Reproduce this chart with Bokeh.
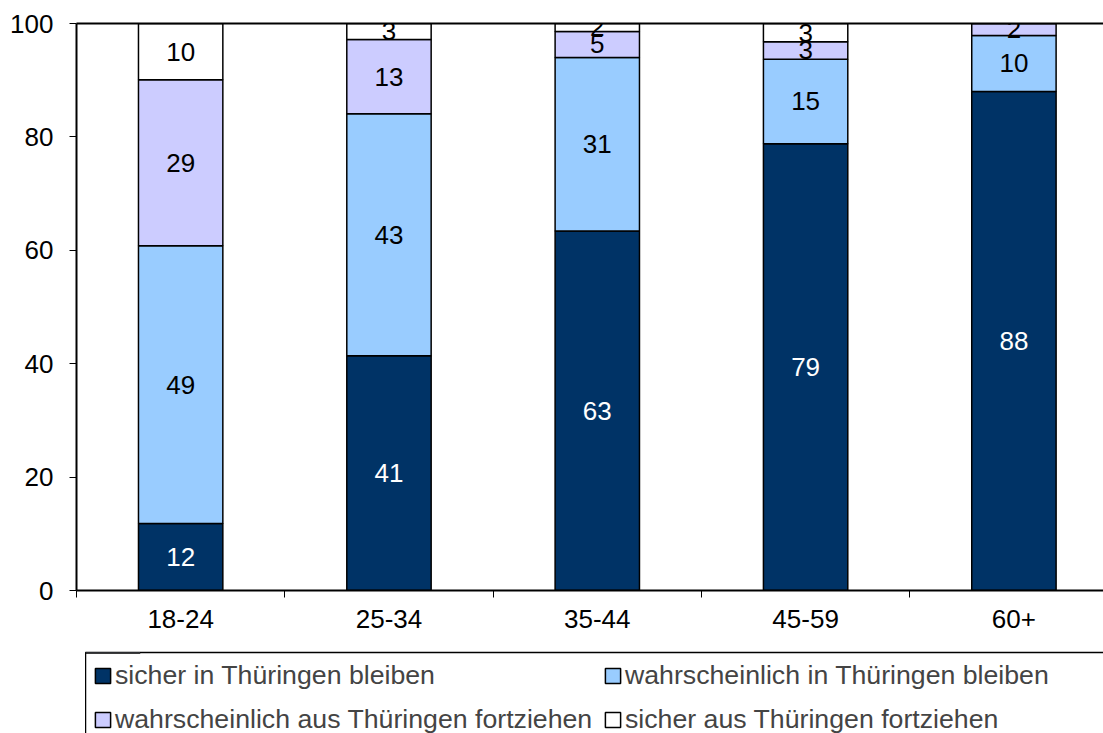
import numpy as np
from bokeh.plotting import figure
from bokeh.layouts import column, row, Spacer
from bokeh.models import (Range1d, FixedTicker, LinearAxis, Legend, LegendItem,
                          ColumnDataSource)
from bokeh.core.properties import value
from bokeh.embed import file_html
from bokeh.resources import INLINE

# ---- data ----
categories = ["18-24", "25-34", "35-44", "45-59", "60+"]
series_names = ["sicher in Thüringen bleiben",
                "wahrscheinlich in Thüringen bleiben",
                "wahrscheinlich aus Thüringen fortziehen",
                "sicher aus Thüringen fortziehen"]
sicher_bleiben = [11.8, 41.4, 63.4, 78.8, 88.0]
wahrsch_bleiben = [49.0, 42.7, 30.6, 14.9, 9.9]
wahrsch_fort = [29.3, 13.1, 4.6, 3.1, 2.1]
sicher_fort = [9.9, 2.8, 1.5, 3.2, 0.0]
colors = ["#003366", "#99CCFF", "#CCCCFF", "#FFFFFF"]
label_colors = ["white", "black", "black", "black"]
y_ticks = [0, 20, 40, 60, 80, 100]

FONT = "Liberation Sans"
FS = "26px"
keys = ["s0", "s1", "s2", "s3"]
series = [sicher_bleiben, wahrsch_bleiben, wahrsch_fort, sicher_fort]
xs = list(range(len(categories)))
src = ColumnDataSource(dict(x=xs, **{k: v for k, v in zip(keys, series)}))

p = figure(frame_width=1027, frame_height=567,
           x_range=Range1d(-0.5, 4.43), y_range=Range1d(0, 100),
           output_backend="svg", toolbar_location=None,
           min_border_left=76, min_border_right=0, min_border_top=23,
           min_border_bottom=61, x_axis_type=None, y_axis_type=None)
p.outline_line_color = None
p.xgrid.visible = False
p.ygrid.visible = False

renderers = p.vbar_stack(keys, x="x", width=0.405, source=src, color=colors,
                         line_color="black", line_width=1.5)

# value labels
bottoms = np.zeros(len(categories))
lx, ly, lt, lc = [], [], [], []
for vals, col in zip(series, label_colors):
    vals = np.array(vals)
    for i, v in enumerate(vals):
        if v >= 1:
            lx.append(xs[i])
            ly.append(bottoms[i] + v / 2)
            lt.append(f"{v:.0f}")
            lc.append(col)
    bottoms = bottoms + vals
lsrc = ColumnDataSource(dict(x=lx, y=ly, t=lt, c=lc))
p.text(x="x", y="y", text="t", text_color="c", source=lsrc,
       text_align="center", text_baseline="middle",
       text_font=value(FONT), text_font_size=FS)

# y axis
yax = LinearAxis(ticker=FixedTicker(ticks=y_ticks))
yax.axis_line_width = 2
yax.axis_line_color = "black"
yax.major_tick_out = 7
yax.major_tick_in = 0
yax.minor_tick_line_color = None
yax.major_label_standoff = 16
yax.major_label_text_font = FONT
yax.major_label_text_font_size = FS
yax.major_label_text_color = "black"
p.add_layout(yax, "left")

# x axis: labels at category centers, tick marks at boundaries
xax = LinearAxis(ticker=FixedTicker(ticks=xs, minor_ticks=[i - 0.5 for i in xs]))
xax.major_label_overrides = {i: c for i, c in zip(xs, categories)}
xax.axis_line_width = 2
xax.axis_line_color = "black"
xax.major_tick_line_color = None
xax.major_tick_out = 7
xax.major_tick_in = 0
xax.minor_tick_out = 7
xax.minor_tick_in = 0
xax.minor_tick_line_color = "black"
xax.major_label_standoff = 12
xax.major_label_text_font = FONT
xax.major_label_text_font_size = FS
xax.major_label_text_color = "black"
p.add_layout(xax, "below")

# top line
tax = LinearAxis(ticker=FixedTicker(ticks=[]))
tax.axis_line_width = 2
tax.axis_line_color = "black"
tax.major_tick_line_color = None
tax.minor_tick_line_color = None
p.add_layout(tax, "above")

# legend panel (separate strip below the chart); its bars lie outside its range
lg = figure(width=1094, height=91, x_range=Range1d(0, 1), y_range=Range1d(-2, -1),
            output_backend="svg", toolbar_location=None,
            min_border_left=0, min_border_right=3, min_border_top=1,
            min_border_bottom=0, x_axis_type=None, y_axis_type=None)
lg.xgrid.visible = False
lg.ygrid.visible = False
lg.outline_line_color = "black"
lg.outline_line_width = 1.5

items = []
for name, key, col in zip(series_names, keys, colors):
    r = lg.vbar(x="x", top=key, width=0.1, source=src, fill_color=col,
                line_color="black", line_width=1.5)
    items.append(LegendItem(label=name, renderers=[r]))
legend = Legend(items=items, location=(8, 6), orientation="horizontal",
                ncols=2, padding=0, margin=0, spacing=10,
                glyph_width=19, glyph_height=19, label_standoff=3,
                label_width=478, label_height=34,
                label_text_font=FONT, label_text_font_size="26.7px",
                border_line_color=None, background_fill_alpha=0)
lg.add_layout(legend)

layout = column(p, row(Spacer(width=85, height=91), lg, spacing=0), spacing=0)
open("out.html", "w").write(file_html(layout, INLINE))
